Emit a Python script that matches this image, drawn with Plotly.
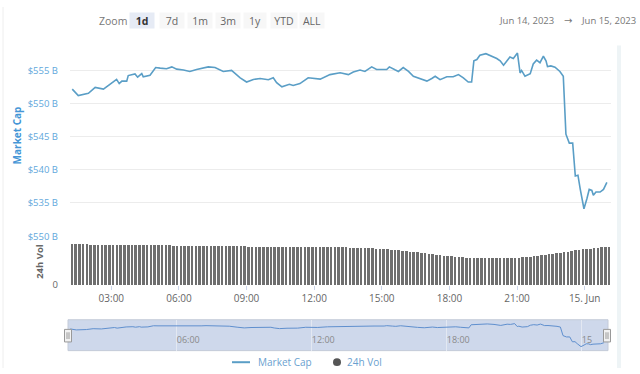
import plotly.graph_objects as go
import pandas as pd

# ---------------- data ----------------
mc_time_jun14 = [
    "01:16", "01:32", "01:59", "02:17", "02:39", "02:57", "03:14", "03:21", "03:28", "03:41",
    "03:45", "04:03", "04:10", "04:21", "04:25", "04:43", "04:58", "05:10", "05:27", "05:41",
    "05:54", "06:12", "06:29", "06:47", "07:05", "07:18", "07:36", "07:49", "07:58", "08:20",
    "08:43", "09:00", "09:18", "09:36", "09:58", "10:11", "10:20", "10:34", "10:54", "11:04",
    "11:22", "11:44", "12:16", "12:42", "13:09", "13:31", "13:44", "14:02", "14:15", "14:33",
    "14:46", "15:13", "15:20", "15:35", "15:44", "15:57", "16:11", "16:24", "16:42", "17:00",
    "17:13", "17:22", "17:35", "17:53", "18:10", "18:24", "18:37", "18:50", "18:59", "19:05",
    "19:13", "19:21", "19:37", "19:48", "20:06", "20:15", "20:24", "20:41", "20:50", "21:01",
    "21:08", "21:12", "21:21", "21:35", "21:43", "21:52", "22:01", "22:10", "22:17", "22:21",
    "22:30", "22:41", "22:54", "23:03", "23:06", "23:10", "23:19", "23:28", "23:35", "23:42",
    "23:48", "23:58",
]
mc_time_jun15 = ["00:06", "00:12", "00:19", "00:23", "00:30", "00:41", "00:50", "00:59"]

# Market cap, billions of USD
mc_value = [
    552.18, 551.20, 551.55, 552.43, 552.18, 552.91, 553.64, 553.01, 553.39, 553.39,
    554.23, 554.47, 553.98, 554.52, 554.04, 554.27, 555.44, 555.35, 555.25, 555.54,
    555.20, 555.06, 554.85, 555.15, 555.35, 555.54, 555.44, 555.10, 554.85, 555.00,
    553.89, 553.25, 553.64, 553.79, 553.60, 553.89, 553.16, 552.52, 552.91, 552.72,
    553.01, 553.89, 553.69, 554.37, 554.66, 554.37, 554.77, 555.06, 554.85, 555.54,
    555.15, 555.15, 555.54, 555.10, 554.85, 555.44, 554.85, 554.12, 553.79, 553.39,
    553.79, 554.12, 553.60, 554.04, 554.04, 554.37, 553.89, 553.25, 553.25, 556.46,
    556.66, 557.29, 557.54, 557.29, 556.81, 556.46, 555.79, 557.04, 556.81, 557.63,
    554.62, 555.00, 554.12, 554.52, 555.98, 556.56, 556.17, 557.15, 556.46, 555.58,
    555.69, 555.50, 554.85, 554.12, 550.72, 545.36, 544.01, 544.01, 539.04, 539.15,
    537.10, 534.08, 535.64, 537.00, 536.85, 536.12, 536.61, 536.61, 537.00, 538.07,
]

# 24h volume, billions of USD, one bar every 10 minutes from 01:15
vol_start = "2023-06-14 01:15"
vol_step = "10min"
vol_value = [
    455, 455, 454, 454, 454, 453,
    453, 453, 452, 452, 452, 451,
    451, 450, 450, 449, 449, 448,
    448, 447, 446, 446, 445, 445,
    444, 444, 443, 442, 442, 441,
    440, 440, 439, 439, 438, 438,
    437, 436, 436, 435, 435, 434,
    434, 433, 433, 432, 432, 431,
    431, 431, 430, 430, 430, 429,
    429, 429, 428, 428, 428, 427,
    427, 427, 426, 426, 426, 425,
    425, 424, 424, 423, 423, 422,
    421, 420, 419, 418, 417, 415,
    413, 411, 409, 407, 404, 401,
    398, 395, 391, 387, 383, 379,
    374, 369, 364, 359, 354, 349,
    344, 339, 334, 329, 324, 320,
    316, 312, 309, 306, 304, 302,
    300, 299, 298, 297, 297, 297,
    297, 298, 299, 301, 303, 306,
    309, 313, 317, 322, 327, 332,
    338, 344, 350, 356, 362, 368,
    374, 380, 386, 392, 398, 403,
    408, 413, 417, 421, 424, 427,
]

x_range = ["2023-06-14 01:10", "2023-06-15 01:10"]
x_tick_vals = ["2023-06-14 03:00", "2023-06-14 06:00", "2023-06-14 09:00", "2023-06-14 12:00",
               "2023-06-14 15:00", "2023-06-14 18:00", "2023-06-14 21:00", "2023-06-15 00:00"]
x_tick_text = ["03:00", "06:00", "09:00", "12:00", "15:00", "18:00", "21:00", "15. Jun"]
nav_tick_vals = ["2023-06-14 06:00", "2023-06-14 12:00", "2023-06-14 18:00", "2023-06-15 00:00"]
nav_tick_text = ["06:00", "12:00", "18:00", "15"]
mc_tick_vals = [535, 540, 545, 550, 555, 560]
mc_tick_text = ["$535 B", "$540 B", "$545 B", "$550 B", "$555 B", ""]
mc_range = [533, 560]
vol_tick_vals = [0, 550]
vol_tick_text = ["0", "$550 B"]
vol_range = [0, 550]
nav_range = [530, 561.6]
range_buttons = ["1d", "7d", "1m", "3m", "1y", "YTD", "ALL"]
date_from = "Jun 14, 2023"
date_to = "Jun 15, 2023"
axis_titles = ["Market Cap", "24h Vol"]
legend_names = ["Market Cap", "24h Vol"]

# ---------------- build ----------------
W, H = 640, 374
def px(x):
    return x / W
def py(y):
    return 1 - y / H

mc_time = ["2023-06-14 " + t for t in mc_time_jun14] + ["2023-06-15 " + t for t in mc_time_jun15]
vol_time = pd.date_range(vol_start, periods=len(vol_value), freq=vol_step)

LINE = "#5a9ec6"
BLUE_TXT = "#62a8dc"
GRID = "#ececec"
FONT = "Open Sans"

fig = go.Figure()
fig.add_trace(go.Scatter(x=mc_time, y=mc_value, mode="lines",
                         line=dict(color=LINE, width=1.6), xaxis="x", yaxis="y",
                         hoverinfo="skip", showlegend=False))
fig.add_trace(go.Bar(x=vol_time, y=vol_value, marker=dict(color="#6e6e6e", line=dict(width=0)),
                     width=10 * 60 * 1000 * 0.68, xaxis="x2", yaxis="y2",
                     hoverinfo="skip", showlegend=False))
fig.add_trace(go.Scatter(x=mc_time, y=mc_value, mode="lines",
                         line=dict(color="#5f8fce", width=1), xaxis="x3", yaxis="y3",
                         hoverinfo="skip", showlegend=False))

xdom = [px(70), px(611)]
navdom = [px(68), px(608)]

fig.update_layout(
    width=W, height=H, margin=dict(l=0, r=0, t=0, b=0),
    paper_bgcolor="white", plot_bgcolor="white",
    font=dict(family=FONT, size=10, color="#666"),
    bargap=0,
    xaxis=dict(domain=xdom, anchor="y", range=x_range, type="date",
               showgrid=False, showticklabels=False, zeroline=False, showline=False,
               fixedrange=True),
    yaxis=dict(domain=[py(216.4), py(31.5)], anchor="x", range=mc_range,
               tickvals=mc_tick_vals, ticktext=mc_tick_text,
               tickfont=dict(color=BLUE_TXT, size=9.5),
               gridcolor=GRID, gridwidth=1, zeroline=False, showline=False,
               ticks="", ticklabelstandoff=11),
    xaxis2=dict(domain=xdom, anchor="y2", range=x_range, type="date", matches="x",
                tickvals=x_tick_vals, ticktext=x_tick_text,
                tickfont=dict(color="#666", size=10),
                showgrid=False, zeroline=False, showline=False,
                ticks="outside", ticklen=4, tickcolor="#ccd6eb"),
    yaxis2=dict(domain=[py(288), py(237.7)], anchor="x2", range=vol_range,
                tickvals=vol_tick_vals,
                ticktext=[vol_tick_text[0], "<span style='color:%s'>%s</span>" % (BLUE_TXT, vol_tick_text[1])],
                tickfont=dict(color="#666", size=9.5),
                gridcolor=GRID, zeroline=False, showline=False,
                ticks="", ticklabelstandoff=11),
    xaxis3=dict(domain=navdom, anchor="y3", range=x_range, type="date",
                tickvals=nav_tick_vals, ticktext=nav_tick_text,
                ticklabelposition="inside right",
                tickfont=dict(color="#8a8a8a", size=9),
                showgrid=True, gridcolor="#e3e8f2", gridwidth=1,
                zeroline=False, showline=False, ticks=""),
    yaxis3=dict(domain=[py(356), py(324)], anchor="x3", range=nav_range,
                showgrid=False, showticklabels=False, zeroline=False, showline=False),
)

shapes = []
# navigator mask & outline
shapes.append(dict(type="rect", xref="paper", yref="paper",
                   x0=px(68), x1=px(608), y0=py(356), y1=py(324),
                   fillcolor="rgba(102,133,194,0.32)", line=dict(color="#c4cbd8", width=1),
                   layer="below"))
# navigator handles
for hx in (68, 607):
    shapes.append(dict(type="rect", xref="paper", yref="paper",
                       x0=px(hx - 3.5), x1=px(hx + 3.5), y0=py(347), y1=py(334),
                       fillcolor="#f2f2f2", line=dict(color="#999", width=1), layer="above"))
    for d in (-1, 1):
        shapes.append(dict(type="line", xref="paper", yref="paper",
                           x0=px(hx + d), x1=px(hx + d), y0=py(344), y1=py(337),
                           line=dict(color="#999", width=1), layer="above"))
# container edges
shapes.append(dict(type="line", xref="paper", yref="paper", x0=px(3), x1=px(3), y0=0, y1=1,
                   line=dict(color="#eeeeee", width=1)))
shapes.append(dict(type="line", xref="paper", yref="paper", x0=px(619), x1=px(619), y0=py(40), y1=0,
                   line=dict(color="#eef4f6", width=4)))

annotations = []
# axis titles
annotations.append(dict(text="<b>%s</b>" % axis_titles[0], xref="paper", yref="paper",
                        x=px(17), y=py(133), textangle=-90, xanchor="center", yanchor="middle",
                        showarrow=False, font=dict(size=10, color="#4596d6", family=FONT)))
annotations.append(dict(text="<b>%s</b>" % axis_titles[1], xref="paper", yref="paper",
                        x=px(40), y=py(264), textangle=-90, xanchor="center", yanchor="middle",
                        showarrow=False, font=dict(size=9.5, color="#666", family=FONT)))
# range selector
annotations.append(dict(text="Zoom", xref="paper", yref="paper", x=px(113), y=py(14),
                        xanchor="center", yanchor="middle", showarrow=False,
                        font=dict(size=10.5, color="#777", family=FONT)))
btn_centers = [142, 172, 200, 228, 255, 284, 312]
btn_widths = [24, 24, 24, 24, 22, 26, 24]
for i, b in enumerate(range_buttons):
    sel = (i == 0)
    annotations.append(dict(text=("<b>%s</b>" % b) if sel else b, xref="paper", yref="paper",
                            x=px(btn_centers[i]), y=py(14), xanchor="center", yanchor="middle",
                            showarrow=False, width=btn_widths[i], height=15, borderpad=0,
                            bgcolor="#e6ebf5" if sel else "#f7f7f7",
                            font=dict(size=10.5, color="#333" if sel else "#666", family=FONT)))
# date range
annotations.append(dict(text=date_from, xref="paper", yref="paper", x=px(497), y=py(14),
                        xanchor="left", yanchor="middle", showarrow=False,
                        font=dict(size=9.5, color="#777", family=FONT)))
annotations.append(dict(text="\u2192", xref="paper", yref="paper", x=px(568), y=py(14),
                        xanchor="center", yanchor="middle", showarrow=False,
                        font=dict(size=10, color="#777", family="DejaVu Sans")))
annotations.append(dict(text=date_to, xref="paper", yref="paper", x=px(579), y=py(14),
                        xanchor="left", yanchor="middle", showarrow=False,
                        font=dict(size=9.5, color="#777", family=FONT)))
# legend (at the bottom edge)
shapes.append(dict(type="line", xref="paper", yref="paper", x0=px(232), x1=px(250),
                   y0=py(368), y1=py(368), line=dict(color=LINE, width=2)))
annotations.append(dict(text=legend_names[0], xref="paper", yref="paper", x=px(256), y=py(368),
                        xanchor="left", yanchor="middle", showarrow=False,
                        font=dict(size=10, color="#6a9fcf", family=FONT)))
shapes.append(dict(type="circle", xref="paper", yref="paper", x0=px(333), x1=px(341),
                   y0=py(372), y1=py(364), fillcolor="#555", line=dict(width=0)))
annotations.append(dict(text=legend_names[1], xref="paper", yref="paper", x=px(345), y=py(368),
                        xanchor="left", yanchor="middle", showarrow=False,
                        font=dict(size=10, color="#6a9fcf", family=FONT)))

fig.update_layout(shapes=shapes, annotations=annotations)
fig.write_html("out.html", config={"displayModeBar": False})
